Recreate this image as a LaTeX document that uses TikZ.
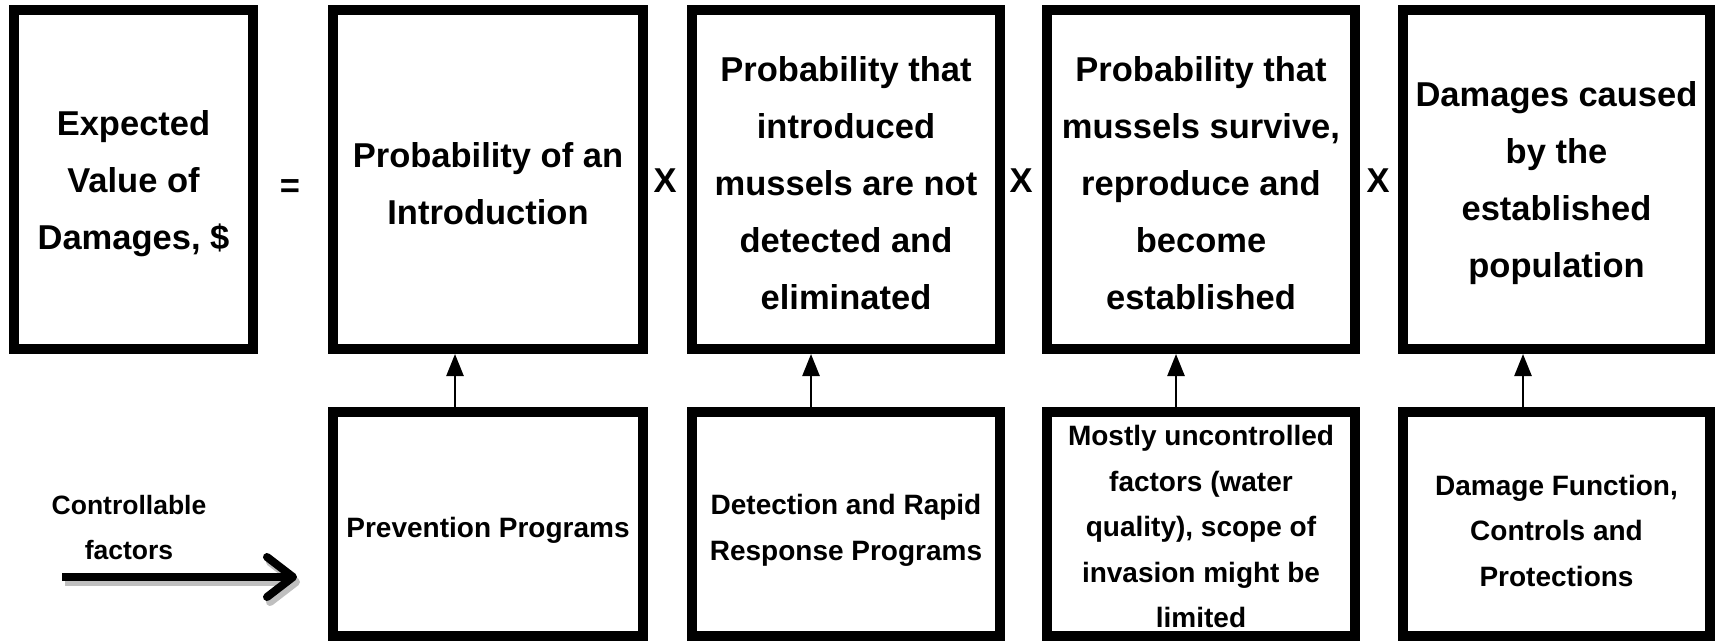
\documentclass[tikz,border=0pt]{standalone}
\usepackage{fontspec}
\setmainfont{Liberation Sans}
\usetikzlibrary{arrows.meta}
\begin{document}
\begin{tikzpicture}[x=1pt,y=-1pt,
  bigtext/.style={font=\bfseries\fontsize{34.5}{57}\selectfont, align=center, inner sep=0pt, yshift=-4pt},
  lowtext/.style={font=\bfseries\fontsize{28}{45.5}\selectfont, align=center, inner sep=0pt, yshift=-6.5pt},
  bigbox/.style={draw, line width=10pt, inner sep=0pt, minimum height=339pt},
  lowbox/.style={draw, line width=10pt, inner sep=0pt, minimum height=224pt},
  opsign/.style={font=\bfseries\fontsize{34.5}{40}\selectfont, inner sep=0pt},
  uparrow/.style={line width=2.5pt, -{Triangle[length=22pt,width=17pt]}},
  ctrltext/.style={font=\bfseries\fontsize{26.5}{45}\selectfont, align=center, inner sep=0pt},
  bigarrow/.style={line width=8pt, -{Straight Barb[length=26pt,width=40pt,line cap=round,line join=round]}},
  shadowarrow/.style={bigarrow, draw=black!25, transform canvas={shift={(3,5)}}},
]
\useasboundingbox (0,0) rectangle (1715,640);

% top row
\node[bigbox, minimum width=239pt, label={[bigtext]center:{Expected\\Value of\\Damages, \$}}] (ev) at (133.5,179.5) {};
\node[bigbox, minimum width=310pt, label={[bigtext]center:{Probability of an\\Introduction}}] (pi) at (488,179.5) {};
\node[bigbox, minimum width=308pt, label={[bigtext]center:{Probability that\\introduced\\mussels are not\\detected and\\eliminated}}] (pn) at (846,179.5) {};
\node[bigbox, minimum width=308pt, label={[bigtext]center:{Probability that\\mussels survive,\\reproduce and\\become\\established}}] (ps) at (1201,179.5) {};
\node[bigbox, minimum width=307pt, label={[bigtext]center:{Damages caused\\by the\\established\\population}}] (dc) at (1556.5,179.5) {};

% operators
\node[opsign] (eq) at (290,189) {=};
\node[opsign] (x1) at (665,181) {X};
\node[opsign] (x2) at (1021,181) {X};
\node[opsign] (x3) at (1378,181) {X};

% bottom row
\node[lowbox, minimum width=310pt, label={[lowtext]center:{Prevention Programs}}] (pp) at (488,524) {};
\node[lowbox, minimum width=308pt, label={[lowtext]center:{Detection and Rapid\\Response Programs}}] (dr) at (846,524) {};
\node[lowbox, minimum width=308pt, label={[lowtext,yshift=4pt]center:{Mostly uncontrolled\\factors (water\\quality), scope of\\invasion might be\\limited}}] (mu) at (1201,524) {};
\node[lowbox, minimum width=307pt, label={[lowtext]center:{Damage Function,\\Controls and\\Protections}}] (df) at (1556.5,524) {};

% vertical arrows
\coordinate (xa) at (455,0);
\coordinate (xb) at (811,0);
\coordinate (xc) at (1176,0);
\coordinate (xd) at (1523,0);
\draw[uparrow] (pp.north -| xa) -- (pi.south -| xa);
\draw[uparrow] (dr.north -| xb) -- (pn.south -| xb);
\draw[uparrow] (mu.north -| xc) -- (ps.south -| xc);
\draw[uparrow] (df.north -| xd) -- (dc.south -| xd);

% controllable factors
\node[ctrltext] (cf) at (129,528) {Controllable\\factors};
\coordinate (cs) at (62,577);
\coordinate (ce) at (297,577);
\draw[shadowarrow] (cs) -- (ce);
\draw[bigarrow] (cs) -- (ce);
\end{tikzpicture}
\end{document}
